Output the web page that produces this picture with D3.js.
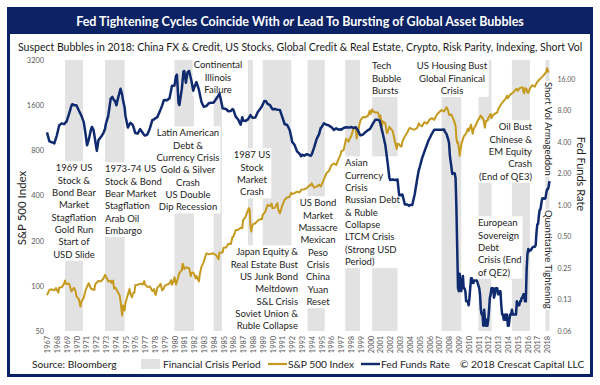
<!DOCTYPE html>
<html><head><meta charset="utf-8">
<script src="https://cdn.jsdelivr.net/npm/d3@7"></script>
<style>body{margin:0;background:#fff} svg{display:block;font-family:Lato,"Open Sans",sans-serif}</style>
</head><body>
<svg id="c" width="600" height="385"></svg>
<script>
// ---------------- DATA ----------------
const titleText = ["Fed Tightening Cycles Coincide With ", "or", " Lead To Bursting of Global Asset Bubbles"];
const subtitleText = "Suspect Bubbles in 2018: China FX & Credit, US Stocks, Global Credit & Real Estate, Crypto, Risk Parity, Indexing, Short Vol";

const leftTicks = [50, 100, 200, 400, 800, 1600, 3200];
const leftTickLabels = ["50", "100", "200", "400", "800", "1600", "3200"];
const rightTicks = [0.0625, 0.125, 0.25, 0.5, 1, 2, 4, 8, 16];
const rightTickLabels = ["0.06", "0.13", "0.25", "0.50", "1.00", "2.00", "4.00", "8.00", "16.00"];
const years = d3.range(1967, 2019);

const crisisStart = ["1968-11","1972-12","1980-01","1984-01","1987-07","1989-01","1993-08","1997-06","2000-03","2007-04","2011-01","2014-06","2017-11"];
const crisisEnd   = ["1970-09","1974-12","1982-01","1984-11","1988-01","1991-12","1995-05","1998-12","2002-10","2009-04","2012-05","2016-04","2018-04"];

const spx = [
["1967-01",86.6],["1967-04",94.0],["1967-07",94.8],["1967-10",93.3],["1967-12",96.5],
["1968-03",90.2],["1968-04",97.6],["1968-07",97.7],["1968-10",103.4],["1968-11",108.4],["1968-12",103.9],
["1969-01",103.0],["1969-04",103.7],["1969-07",91.8],["1969-10",97.2],["1969-12",92.1],
["1970-01",85.0],["1970-04",81.5],["1970-06",72.7],["1970-07",78.0],["1970-10",83.3],["1970-12",92.2],
["1971-01",95.9],["1971-04",104.0],["1971-07",95.6],["1971-10",94.2],["1971-11",94.0],["1971-12",102.1],
["1972-01",103.9],["1972-04",107.7],["1972-07",107.4],["1972-10",111.6],["1972-12",118.1],
["1973-01",116.0],["1973-04",107.0],["1973-07",108.2],["1973-08",104.3],["1973-10",108.3],["1973-11",96.0],["1973-12",97.6],
["1974-01",96.6],["1974-04",90.3],["1974-06",86.0],["1974-07",79.3],["1974-09",63.5],["1974-10",73.9],["1974-11",70.0],["1974-12",68.6],
["1975-01",77.0],["1975-04",87.3],["1975-06",95.2],["1975-07",88.8],["1975-09",83.9],["1975-10",89.0],["1975-12",90.2],
["1976-01",100.9],["1976-04",101.6],["1976-07",103.4],["1976-10",102.1],["1976-12",107.5],
["1977-01",102.0],["1977-04",98.4],["1977-07",98.9],["1977-10",92.3],["1977-12",95.1],
["1978-01",89.3],["1978-02",87.0],["1978-04",97.0],["1978-07",100.7],["1978-08",103.3],["1978-10",93.2],["1978-12",96.1],
["1979-01",99.9],["1979-04",101.8],["1979-07",103.8],["1979-09",109.3],["1979-10",101.8],["1979-12",107.9],
["1980-01",114.2],["1980-03",102.1],["1980-04",106.3],["1980-07",121.7],["1980-10",127.5],["1980-11",140.5],["1980-12",135.8],
["1981-01",129.6],["1981-04",132.8],["1981-07",130.9],["1981-09",116.2],["1981-10",121.9],["1981-12",122.6],
["1982-01",120.4],["1982-03",112.0],["1982-04",116.4],["1982-07",107.1],["1982-08",119.5],["1982-10",133.7],["1982-12",140.6],
["1983-01",145.3],["1983-04",164.4],["1983-07",162.6],["1983-10",163.6],["1983-12",164.9],
["1984-01",163.4],["1984-04",160.1],["1984-07",150.7],["1984-08",166.7],["1984-10",166.1],["1984-12",167.2],
["1985-01",179.6],["1985-04",179.8],["1985-07",190.9],["1985-10",189.8],["1985-12",211.3],
["1986-01",211.8],["1986-04",235.5],["1986-07",236.1],["1986-10",244.0],["1986-12",242.2],
["1987-01",274.1],["1987-04",288.4],["1987-07",318.7],["1987-08",329.8],["1987-09",321.8],["1987-10",251.8],["1987-11",230.3],["1987-12",247.1],
["1988-01",257.1],["1988-04",261.3],["1988-07",272.0],["1988-10",279.0],["1988-12",277.7],
["1989-01",297.5],["1989-04",309.6],["1989-07",346.0],["1989-10",340.4],["1989-12",353.4],
["1990-01",329.1],["1990-04",330.8],["1990-07",356.2],["1990-08",322.6],["1990-10",304.0],["1990-12",330.2],
["1991-01",343.9],["1991-04",375.3],["1991-07",387.8],["1991-10",392.5],["1991-12",417.1],
["1992-01",408.8],["1992-04",415.0],["1992-07",424.2],["1992-10",418.7],["1992-12",435.7],
["1993-01",438.8],["1993-04",440.2],["1993-07",448.1],["1993-10",467.8],["1993-12",466.5],
["1994-01",481.6],["1994-04",450.9],["1994-07",458.3],["1994-10",472.4],["1994-12",459.3],
["1995-01",470.4],["1995-04",514.7],["1995-07",562.1],["1995-10",581.5],["1995-12",615.9],
["1996-01",636.0],["1996-04",654.2],["1996-07",640.0],["1996-10",705.3],["1996-12",740.7],
["1997-01",786.2],["1997-04",801.3],["1997-07",954.3],["1997-10",914.6],["1997-12",970.4],
["1998-01",980.3],["1998-04",1111.8],["1998-07",1120.7],["1998-08",957.3],["1998-10",1098.7],["1998-12",1229.2],
["1999-01",1279.6],["1999-04",1335.2],["1999-07",1328.7],["1999-10",1362.9],["1999-12",1469.3],
["2000-01",1394.5],["2000-03",1498.6],["2000-04",1452.4],["2000-07",1430.8],["2000-10",1429.4],["2000-12",1320.3],
["2001-01",1366.0],["2001-03",1160.3],["2001-04",1249.5],["2001-07",1211.2],["2001-09",1040.9],["2001-10",1059.8],["2001-12",1148.1],
["2002-01",1130.2],["2002-04",1076.9],["2002-07",911.6],["2002-09",815.3],["2002-10",885.8],["2002-12",879.8],
["2003-01",855.7],["2003-03",848.2],["2003-04",916.9],["2003-07",990.3],["2003-10",1050.7],["2003-12",1111.9],
["2004-01",1131.1],["2004-04",1107.3],["2004-07",1101.7],["2004-10",1130.2],["2004-12",1211.9],
["2005-01",1181.3],["2005-04",1156.9],["2005-07",1234.2],["2005-10",1207.0],["2005-12",1248.3],
["2006-01",1280.1],["2006-04",1310.6],["2006-07",1276.7],["2006-10",1377.9],["2006-12",1418.3],
["2007-01",1438.2],["2007-04",1482.4],["2007-07",1455.3],["2007-10",1549.4],["2007-12",1468.4],
["2008-01",1378.6],["2008-04",1385.6],["2008-07",1267.4],["2008-09",1166.4],["2008-10",968.8],["2008-11",896.2],["2008-12",903.3],
["2009-01",825.9],["2009-02",735.1],["2009-03",797.9],["2009-04",872.8],["2009-07",987.5],["2009-10",1036.2],["2009-12",1115.1],
["2010-01",1073.9],["2010-04",1186.7],["2010-06",1030.7],["2010-07",1101.6],["2010-10",1183.3],["2010-12",1257.6],
["2011-01",1286.1],["2011-04",1363.6],["2011-07",1292.3],["2011-09",1131.4],["2011-10",1253.3],["2011-12",1257.6],
["2012-01",1312.4],["2012-04",1397.9],["2012-05",1310.3],["2012-07",1379.3],["2012-10",1412.2],["2012-12",1426.2],
["2013-01",1498.1],["2013-04",1597.6],["2013-07",1685.7],["2013-10",1756.5],["2013-12",1848.4],
["2014-01",1782.6],["2014-04",1884.0],["2014-07",1930.7],["2014-10",2018.1],["2014-12",2058.9],
["2015-01",1995.0],["2015-04",2085.5],["2015-07",2103.8],["2015-08",1972.2],["2015-09",1920.0],["2015-10",2079.4],["2015-12",2043.9],
["2016-01",1940.2],["2016-02",1932.2],["2016-04",2065.3],["2016-07",2173.6],["2016-10",2126.2],["2016-12",2238.8],
["2017-01",2278.9],["2017-04",2384.2],["2017-07",2470.3],["2017-10",2575.3],["2017-12",2673.6],
["2018-01",2823.8],["2018-02",2713.8],["2018-03",2640.9]
];

const ffr = [
["1967-01",4.94],["1967-04",4.05],["1967-07",3.98],["1967-10",3.88],
["1968-01",4.61],["1968-04",5.78],["1968-07",6.02],["1968-10",5.92],
["1969-01",6.30],["1969-04",7.41],["1969-07",8.90],["1969-08",9.19],["1969-10",9.00],
["1970-01",8.98],["1970-04",8.00],["1970-07",7.18],["1970-10",6.20],["1970-12",4.90],
["1971-02",3.72],["1971-04",4.16],["1971-07",5.31],["1971-08",5.57],["1971-10",5.20],["1971-12",4.14],
["1972-02",3.29],["1972-04",4.17],["1972-07",4.46],["1972-10",4.87],["1972-12",5.33],
["1973-01",5.94],["1973-04",7.12],["1973-07",10.40],["1973-09",10.78],["1973-11",10.01],["1973-12",9.95],
["1974-02",8.97],["1974-04",10.51],["1974-07",12.92],["1974-09",11.34],["1974-10",10.06],["1974-12",8.53],
["1975-01",7.13],["1975-04",5.49],["1975-07",6.10],["1975-10",5.82],["1975-12",5.20],
["1976-01",4.87],["1976-04",4.82],["1976-07",5.31],["1976-10",4.90],["1976-12",4.65],
["1977-01",4.61],["1977-04",4.73],["1977-07",5.42],["1977-10",6.51],["1977-12",6.56],
["1978-01",6.70],["1978-04",6.90],["1978-07",7.81],["1978-10",8.96],["1978-12",10.03],
["1979-01",10.07],["1979-04",10.01],["1979-07",10.47],["1979-10",13.77],["1979-12",13.78],
["1980-01",13.82],["1980-03",17.19],["1980-04",17.61],["1980-06",9.47],["1980-07",9.03],["1980-10",12.81],["1980-12",18.90],
["1981-01",19.08],["1981-03",14.70],["1981-05",18.52],["1981-07",19.10],["1981-10",15.08],["1981-12",12.37],
["1982-01",13.22],["1982-04",14.94],["1982-07",12.59],["1982-10",9.71],["1982-12",8.95],
["1983-01",8.68],["1983-04",8.80],["1983-07",9.37],["1983-10",9.48],["1983-12",9.47],
["1984-01",9.56],["1984-04",10.29],["1984-07",11.23],["1984-08",11.64],["1984-10",9.99],["1984-12",8.38],
["1985-01",8.35],["1985-04",8.27],["1985-07",7.87],["1985-10",7.92],["1985-12",8.27],
["1986-01",8.14],["1986-04",6.99],["1986-07",6.56],["1986-10",5.85],["1986-12",6.91],
["1987-01",6.43],["1987-04",6.36],["1987-07",6.58],["1987-10",7.22],["1987-12",6.86],
["1988-01",6.83],["1988-04",6.87],["1988-07",7.75],["1988-10",8.30],["1988-12",8.76],
["1989-01",9.12],["1989-03",9.85],["1989-05",9.81],["1989-07",9.24],["1989-10",8.99],["1989-12",8.45],
["1990-01",8.23],["1990-04",8.26],["1990-07",8.15],["1990-10",8.11],["1990-12",7.31],
["1991-01",6.91],["1991-04",5.91],["1991-07",5.82],["1991-10",5.21],["1991-12",4.43],
["1992-01",4.03],["1992-04",3.75],["1992-07",3.25],["1992-10",3.09],["1992-12",2.92],
["1993-01",3.02],["1993-04",2.96],["1993-07",3.06],["1993-10",2.99],["1993-12",2.96],
["1994-01",3.05],["1994-04",3.56],["1994-07",4.26],["1994-10",4.76],["1994-12",5.45],
["1995-01",5.53],["1995-04",6.05],["1995-07",5.85],["1995-10",5.76],["1995-12",5.60],
["1996-01",5.56],["1996-04",5.22],["1996-07",5.40],["1996-10",5.24],["1996-12",5.29],
["1997-01",5.25],["1997-04",5.45],["1997-07",5.54],["1997-10",5.50],["1997-12",5.50],
["1998-01",5.56],["1998-04",5.45],["1998-07",5.54],["1998-10",5.07],["1998-12",4.68],
["1999-01",4.63],["1999-04",4.74],["1999-07",4.99],["1999-10",5.20],["1999-12",5.30],
["2000-01",5.45],["2000-04",6.02],["2000-07",6.54],["2000-10",6.51],["2000-12",6.40],
["2001-01",5.98],["2001-04",4.80],["2001-07",3.77],["2001-10",2.49],["2001-12",1.82],
["2002-01",1.73],["2002-04",1.75],["2002-07",1.73],["2002-10",1.75],["2002-12",1.24],
["2003-01",1.24],["2003-04",1.26],["2003-07",1.01],["2003-10",1.01],["2003-12",0.98],
["2004-01",1.00],["2004-04",1.00],["2004-07",1.26],["2004-10",1.76],["2004-12",2.16],
["2005-01",2.28],["2005-04",2.79],["2005-07",3.26],["2005-10",3.78],["2005-12",4.16],
["2006-01",4.29],["2006-04",4.79],["2006-07",5.24],["2006-10",5.25],["2006-12",5.24],
["2007-01",5.25],["2007-04",5.25],["2007-07",5.26],["2007-08",5.02],["2007-10",4.76],["2007-12",4.24],
["2008-01",3.94],["2008-02",2.98],["2008-03",2.61],["2008-04",2.28],["2008-05",1.98],["2008-06",2.00],["2008-07",2.01],["2008-08",2.00],["2008-09",1.81],["2008-10",0.97],["2008-11",0.39],["2008-12",0.16],
["2009-01",0.15],["2009-02",0.22],["2009-03",0.18],["2009-04",0.15],["2009-05",0.18],["2009-06",0.21],["2009-07",0.16],["2009-08",0.16],["2009-09",0.15],["2009-10",0.12],["2009-11",0.12],["2009-12",0.12],
["2010-01",0.11],["2010-02",0.13],["2010-03",0.16],["2010-04",0.20],["2010-05",0.20],["2010-06",0.18],["2010-07",0.18],["2010-08",0.19],["2010-09",0.19],["2010-10",0.19],["2010-11",0.19],["2010-12",0.18],
["2011-01",0.17],["2011-02",0.16],["2011-03",0.14],["2011-04",0.10],["2011-05",0.09],["2011-06",0.09],["2011-07",0.07],["2011-08",0.10],["2011-09",0.08],["2011-10",0.07],["2011-11",0.08],["2011-12",0.07],
["2012-01",0.08],["2012-02",0.10],["2012-03",0.13],["2012-04",0.14],["2012-05",0.16],["2012-06",0.16],["2012-07",0.16],["2012-08",0.13],["2012-09",0.14],["2012-10",0.16],["2012-11",0.16],["2012-12",0.16],
["2013-01",0.14],["2013-02",0.15],["2013-03",0.14],["2013-04",0.15],["2013-05",0.11],["2013-06",0.09],["2013-07",0.09],["2013-08",0.08],["2013-09",0.08],["2013-10",0.09],["2013-11",0.08],["2013-12",0.09],
["2014-01",0.07],["2014-02",0.07],["2014-03",0.08],["2014-04",0.09],["2014-05",0.09],["2014-06",0.10],["2014-07",0.09],["2014-08",0.09],["2014-09",0.09],["2014-10",0.09],["2014-11",0.09],["2014-12",0.12],
["2015-01",0.11],["2015-02",0.11],["2015-03",0.11],["2015-04",0.12],["2015-05",0.12],["2015-06",0.13],["2015-07",0.13],["2015-08",0.14],["2015-09",0.14],["2015-10",0.12],["2015-11",0.12],["2015-12",0.24],
["2016-01",0.34],["2016-02",0.38],["2016-03",0.36],["2016-04",0.37],["2016-05",0.37],["2016-06",0.38],["2016-07",0.39],["2016-08",0.40],["2016-09",0.40],["2016-10",0.40],["2016-11",0.41],["2016-12",0.54],
["2017-01",0.65],["2017-02",0.66],["2017-03",0.79],["2017-04",0.90],["2017-05",0.91],["2017-06",1.04],["2017-07",1.15],["2017-08",1.16],["2017-09",1.15],["2017-10",1.15],["2017-11",1.16],["2017-12",1.30],
["2018-01",1.41],["2018-02",1.42],["2018-03",1.51],["2018-04",1.69]
];

const annotations = [
 ["1969 US","Stock &","Bond Bear","Market","Stagflation","Gold Run","Start of","USD Slide"],
 ["1973-74 US","Stock & Bond","Bear Market","Stagflation","Arab Oil","Embargo"],
 ["Latin American","Debt &","Currency Crisis","Gold & Silver","Crash","US Double","Dip Recession"],
 ["Continental","Illinois","Failure"],
 ["1987 US","Stock","Market","Crash"],
 ["Japan Equity &","Real Estate Bust","US Junk Bond","Meltdown","S&L Crisis","Soviet Union &","Ruble Collapse"],
 ["US Bond","Market","Massacre","Mexican","Peso","Crisis","China","Yuan","Reset"],
 ["Asian","Currency","Crisis","Russian Debt","& Ruble","Collapse","LTCM Crisis","(Strong USD","Period)"],
 ["Tech","Bubble","Bursts"],
 ["US Housing Bust","Global Finanical","Crisis"],
 ["Oil Bust","Chinese &","EM Equity","Crash","(End of QE3)"],
 ["European","Sovereign","Debt","Crisis (End","of QE2)"]
];
const verticalNotes = ["Short Vol Armageddon", "Quantitative Tightening"];
const legendLabels = ["Source: Bloomberg", "Financial Crisis Period", "S&P 500 Index", "Fed Funds Rate", "© 2018 Crescat Capital LLC"];

// ---------------- LAYOUT ----------------
const NAVY = "#0b2265", LINE_NAVY = "#0f2a6e", GOLD = "#c59a1e", BAND = "#e2e2e2", TICK = "#595959";
const annPos = [ // [x, first line center y, anchor]
 [74,168,"middle"],[105,169,"start"],[188,133,"middle"],[218,65,"middle"],[252,155,"middle"],
 [298,252,"end"],[318,203,"middle"],[345,163,"start"],[372,66,"start"],[452,66,"middle"],
 [532,127,"end"],[478,223,"start"]
];
const LH = 12.35;

const svg = d3.select("#c");
const parse = d3.timeParse("%Y-%m");
const pTop = 60, pBot = 331, pLeft = 47, pRight = 549.5;
const x = d3.scaleTime().domain([new Date(1967,0,1), new Date(2018,3,1)]).range([pLeft, pRight]);
const yL = d3.scaleLog().domain([50, 3200]).range([pBot, pTop]);
const yR = d3.scaleLog().base(2).domain([0.0625, 24.3]).range([pBot, pTop]);

// frame
svg.append("rect").attr("x",8.5).attr("y",8.5).attr("width",583).attr("height",367)
  .attr("fill","#fff").attr("stroke",NAVY).attr("stroke-width",3);
svg.append("rect").attr("x",8).attr("y",8).attr("width",584).attr("height",26).attr("fill",NAVY);

function fit(sel, target){ const w = sel.node().getComputedTextLength(); const fs = parseFloat(sel.attr("font-size")); sel.attr("font-size", fs*target/w); }

const t = svg.append("text").attr("x",300).attr("y",25.5).attr("text-anchor","middle")
  .attr("fill","#fff").attr("font-weight","bold").attr("font-size",14);
titleText.forEach((s,i)=> t.append("tspan").text(s).attr("font-style", i===1?"italic":"normal"));
fit(t, 448);

const st = svg.append("text").attr("x",18).attr("y",51).attr("fill","#1a1a1a").attr("font-size",12).text(subtitleText);
fit(st, 565);

const gBands = svg.append("g"), gBoxes = svg.append("g"), gLines = svg.append("g"), gText = svg.append("g");

// bands
gBands.selectAll("rect").data(crisisStart).join("rect")
  .attr("x", (d)=>x(parse(d)))
  .attr("width", (d,i)=>x(parse(crisisEnd[i]))-x(parse(d)))
  .attr("y", pTop).attr("height", pBot-pTop).attr("fill", BAND);

// annotations
annotations.forEach((lines,i)=>{
  const [ax, ay, anc] = annPos[i];
  const tx = gText.append("text").attr("font-size",9.5).attr("fill","#1c1c1c").attr("text-anchor",anc);
  lines.forEach((l,j)=> tx.append("tspan").attr("x",ax).attr("y",ay+j*LH).attr("dy","0.35em").text(l));
  const b = tx.node().getBBox();
  gBoxes.append("rect").attr("x",b.x-1).attr("y",b.y-1).attr("width",b.width+2).attr("height",b.height+2).attr("fill","#fff");
});
[[548,82],[548,210]].forEach(([vx,vy],i)=>{
  const tx = gText.append("text").attr("font-size",9.5).attr("fill","#1c1c1c")
    .attr("transform",`translate(${vx},${vy}) rotate(90)`).attr("dy","0.35em").text(verticalNotes[i]);
  const b = tx.node().getBBox();
  gBoxes.append("rect").attr("x",vx-6).attr("y",vy-1).attr("width",12).attr("height",b.width+2).attr("fill","#fff");
});

// lines
gLines.append("path").datum(spx).attr("fill","none").attr("stroke",GOLD).attr("stroke-width",2)
  .attr("stroke-linejoin","round")
  .attr("d", d3.line().x(d=>x(parse(d[0]))).y(d=>yL(d[1])));
gLines.append("path").datum(ffr).attr("fill","none").attr("stroke",LINE_NAVY).attr("stroke-width",2.5)
  .attr("stroke-linejoin","round")
  .attr("d", d3.line().x(d=>x(parse(d[0]))).y(d=>yR(d[1])));

// axes
const axL = svg.append("g").attr("transform",`translate(${pLeft},0)`)
  .call(d3.axisLeft(yL).tickValues(leftTicks).tickFormat((d,i)=>leftTickLabels[i]).tickSize(0).tickPadding(3));
const axR = svg.append("g").attr("transform",`translate(${pRight},0)`)
  .call(d3.axisRight(yR).tickValues(rightTicks).tickFormat((d,i)=>rightTickLabels[i]).tickSize(0).tickPadding(8));
const axB = svg.append("g").attr("transform",`translate(0,${pBot})`)
  .call(d3.axisBottom(x).tickValues(years.map(y=>new Date(y,0,1))).tickFormat(d3.timeFormat("%Y")).tickSize(0));
[axL,axR,axB].forEach(a=>{ a.select(".domain").remove(); a.selectAll("text").attr("fill",TICK).attr("font-size",7.4).attr("font-family","Lato, sans-serif"); });
axR.selectAll("text").attr("font-size",7);
axB.selectAll("text").attr("transform","rotate(-90)").attr("text-anchor","end")
  .attr("x",-5).attr("y",0).attr("dy","0.35em");

// axis titles
svg.append("text").attr("transform","translate(22,208) rotate(-90)").attr("text-anchor","middle")
  .attr("dy","0.35em").attr("font-size",11.5).attr("fill","#1c1c1c").text("S&P 500 Index");
svg.append("text").attr("transform","translate(581,174) rotate(90)").attr("text-anchor","middle")
  .attr("dy","0.35em").attr("font-size",11).attr("fill","#1c1c1c").text("Fed Funds Rate");

// legend
const ly = 364;
const lg = svg.append("g").attr("font-size",10.2).attr("fill","#1c1c1c");
lg.append("text").attr("x",32).attr("y",ly).attr("dy","0.35em").text(legendLabels[0]);
lg.append("rect").attr("x",141).attr("y",ly-5).attr("width",19).attr("height",10).attr("fill",BAND);
lg.append("text").attr("x",163).attr("y",ly).attr("dy","0.35em").text(legendLabels[1]);
lg.append("line").attr("x1",268).attr("x2",287).attr("y1",ly).attr("y2",ly).attr("stroke",GOLD).attr("stroke-width",2.2);
lg.append("text").attr("x",288).attr("y",ly).attr("dy","0.35em").text(legendLabels[2]);
lg.append("line").attr("x1",361).attr("x2",380).attr("y1",ly).attr("y2",ly).attr("stroke",LINE_NAVY).attr("stroke-width",2.4);
lg.append("text").attr("x",381).attr("y",ly).attr("dy","0.35em").text(legendLabels[3]);
lg.append("text").attr("x",460).attr("y",ly).attr("dy","0.35em").text(legendLabels[4]);
</script>
</body></html>
